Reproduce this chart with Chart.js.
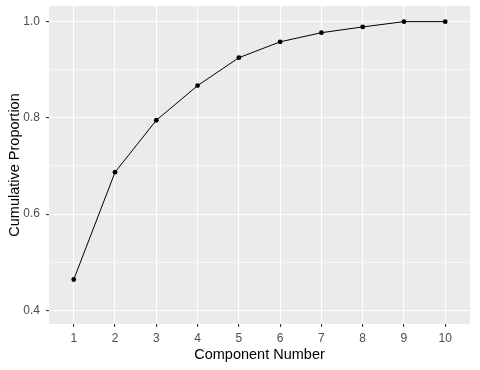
<!DOCTYPE html>
<html>
<head>
<meta charset="utf-8">
<script src="https://cdn.jsdelivr.net/npm/chart.js@4/dist/chart.umd.min.js"></script>
<style>
html,body{margin:0;padding:0;background:#fff}
#wrap{width:480px;height:370px}
</style>
</head>
<body>
<div id="wrap"><canvas id="c" width="480" height="370"></canvas></div>
<script>
// DATA
const components=[1,2,3,4,5,6,7,8,9,10];
const cumProp=[0.464,0.687,0.795,0.867,0.925,0.958,0.977,0.989,1.0,1.0];
const yTicks=[0.4,0.5,0.6,0.7,0.8,0.9,1.0];
const yLabels=['0.4','','0.6','','0.8','','1.0'];

const points=components.map((c,i)=>({x:c,y:cumProp[i]}));

// gray panel behind the grid
const panelBg={
  id:'panelBg',
  beforeDraw(chart){
    const {ctx,chartArea:a}=chart;
    ctx.save();
    ctx.fillStyle='#EBEBEB';
    ctx.fillRect(a.left,a.top,a.right-a.left,a.bottom-a.top);
    ctx.restore();
  }
};

const isMajor=v=>Math.round(v*10)%2===0;

new Chart(document.getElementById('c'),{
  type:'scatter',
  data:{datasets:[{
    data:points,
    showLine:true,
    borderColor:'#000',
    borderWidth:1,
    pointBackgroundColor:'#000',
    pointBorderColor:'#000',
    pointRadius:2.4,
    pointBorderWidth:0
  }]},
  options:{
    responsive:false,
    animation:false,
    layout:{padding:{left:0,top:6,right:10,bottom:0}},
    plugins:{legend:{display:false},tooltip:{enabled:false}},
    scales:{
      x:{
        type:'linear',min:0.4,max:10.6,
        afterBuildTicks:s=>{s.ticks=components.map(v=>({value:v}))},
        afterFit:s=>{s.height=46;s.paddingLeft=0;s.paddingRight=0},
        border:{display:false},
        grid:{color:'#fff',lineWidth:1.1,tickColor:'#333',tickLength:3,tickWidth:1.1},
        ticks:{color:'#4D4D4D',padding:4,font:{family:'Liberation Sans',size:12},callback:v=>String(v)},
        title:{display:true,text:'Component Number',color:'#000',font:{family:'Liberation Sans',size:14.5},padding:{top:0,bottom:6}}
      },
      y:{
        type:'linear',min:0.3715,max:1.0325,
        afterBuildTicks:s=>{s.ticks=yTicks.map(v=>({value:v}))},
        afterFit:s=>{s.width=49;s.paddingTop=0;s.paddingBottom=0},
        border:{display:false},
        grid:{
          color:'#fff',
          lineWidth:c=>isMajor(c.tick.value)?1.1:0.55,
          tickColor:c=>isMajor(c.tick.value)?'#333':'rgba(0,0,0,0)',
          tickLength:3,tickWidth:1.1
        },
        ticks:{color:'#4D4D4D',padding:6,font:{family:'Liberation Sans',size:12},
          callback:(v,i)=>yLabels[i]},
        title:{display:true,text:'Cumulative Proportion',color:'#000',font:{family:'Liberation Sans',size:14.5},padding:{top:6,bottom:0}}
      }
    }
  },
  plugins:[panelBg]
});
</script>
</body>
</html>
